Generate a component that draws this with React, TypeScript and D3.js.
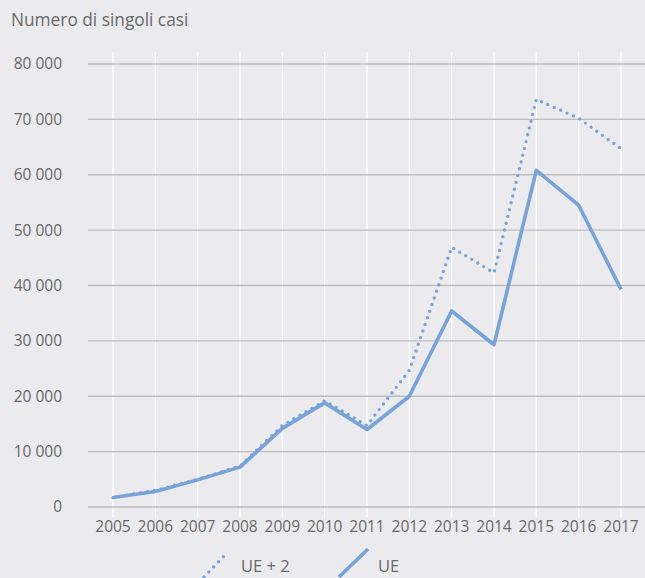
import React from "react";
import * as d3 from "d3";

// values
const years = [2005, 2006, 2007, 2008, 2009, 2010, 2011, 2012, 2013, 2014, 2015, 2016, 2017];
const ue = [1700, 2800, 4900, 7200, 14200, 18800, 14000, 20000, 35400, 29300, 60800, 54500, 39300];
const uePlus2 = [1700, 3000, 5000, 7400, 14700, 19200, 14700, 24700, 46900, 42300, 73600, 70200, 64700];
const yTicks = [0, 10000, 20000, 30000, 40000, 50000, 60000, 70000, 80000];

const W = 645, H = 578;
const color = "#77a3da";
const textColor = "#686868";
const font = "'Open Sans', Roboto, sans-serif";

const fmt = (v: number) => d3.format(",")(v).replace(/,/g, " ");

export default function App() {
    const x = d3.scalePoint<number>().domain(years).range([113, 621]);
    const y = d3.scaleLinear().domain([0, 80000]).range([507, 64]);

    const line = d3.line<number>()
        .x((d, i) => x(years[i]) as number)
        .y(d => y(d));

    return (
        <svg width={W} height={H} style={{ position: "absolute", left: 0, top: 0 }}
            fontFamily={font}>
            <rect width={W} height={H} fill="#ebebed" />
            <text x={11} y={26} fontSize={17.3} fill={textColor}>Numero di singoli casi</text>

            {/* vertical white grid lines at each year */}
            {years.map(yr => (
                <line key={"v" + yr} x1={x(yr)} x2={x(yr)} y1={52} y2={517} stroke="#ffffff" strokeWidth={1.4} />
            ))}

            {/* horizontal grid lines + y labels */}
            {yTicks.map(t => (
                <g key={"h" + t}>
                    <line x1={88} x2={W} y1={y(t)} y2={y(t)} stroke="#bdbdbd" strokeWidth={1.4} />
                    <text x={62} y={y(t)} dy="0.35em" textAnchor="end" fontSize={15.5} fill={textColor}>{fmt(t)}</text>
                </g>
            ))}

            {/* x labels */}
            {years.map(yr => (
                <text key={"x" + yr} x={x(yr)} y={527} dy="0.35em" textAnchor="middle" fontSize={15.5} fill={textColor}>{yr}</text>
            ))}

            <path d={line(uePlus2) || ""} fill="none" stroke={color} strokeWidth={3.4}
                strokeDasharray="0 7" strokeLinecap="round" strokeLinejoin="round" />
            <path d={line(ue) || ""} fill="none" stroke={color} strokeWidth={3.6} strokeLinejoin="round" />

            {/* legend */}
            <line x1={204} y1={577} x2={226} y2={554} stroke={color} strokeWidth={3.4}
                strokeDasharray="0 7" strokeLinecap="round" />
            <text x={241} y={566} dy="0.35em" fontSize={16.5} fill={textColor}>UE + 2</text>
            <line x1={339} y1={577} x2={368} y2={549} stroke={color} strokeWidth={3.6} />
            <text x={378} y={566} dy="0.35em" fontSize={16.5} fill={textColor}>UE</text>
        </svg>
    );
}
